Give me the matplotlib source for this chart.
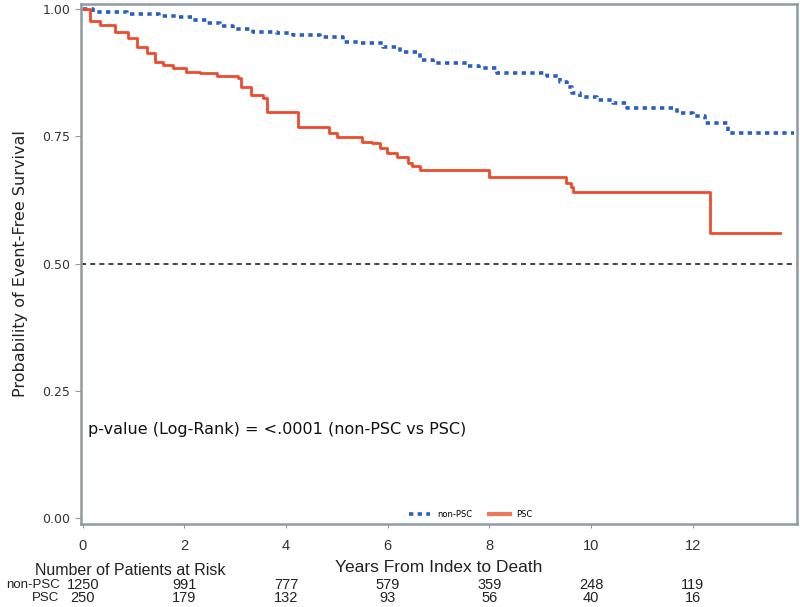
import matplotlib
matplotlib.use("Agg")
import matplotlib.pyplot as plt
from matplotlib.lines import Line2D

# Kaplan-Meier step curves
years_non_psc = [0, 0.2, 0.86, 1.5, 1.84, 2.17, 2.44, 2.7, 2.95, 3.35, 3.82, 4.14, 4.67,
                 5.12, 5.45, 5.9, 6.24, 6.63, 6.9, 7.56, 7.8, 8.15, 9.13, 9.39, 9.52,
                 9.63, 9.78, 10.12, 10.43, 10.71, 11.69, 12.0, 12.24, 12.7, 14.0]
surv_non_psc = [1.0, 0.994, 0.990, 0.986, 0.984, 0.980, 0.974, 0.967, 0.961, 0.955, 0.953,
                0.949, 0.945, 0.935, 0.933, 0.925, 0.916, 0.900, 0.894, 0.888, 0.884,
                0.874, 0.868, 0.857, 0.847, 0.835, 0.827, 0.821, 0.815, 0.805, 0.796,
                0.790, 0.776, 0.756, 0.756]

years_psc = [0, 0.14, 0.33, 0.63, 0.89, 1.06, 1.26, 1.42, 1.57, 1.77, 2.04, 2.3, 2.64,
             3.05, 3.12, 3.3, 3.54, 3.62, 4.23, 4.84, 5.0, 5.49, 5.7, 5.85, 5.98, 6.18,
             6.4, 6.47, 6.63, 8.0, 9.5, 9.6, 9.65, 12.34, 13.72]
surv_psc = [1.0, 0.978, 0.969, 0.955, 0.943, 0.925, 0.914, 0.896, 0.890, 0.884, 0.876,
            0.874, 0.868, 0.864, 0.847, 0.831, 0.825, 0.798, 0.768, 0.756, 0.748, 0.739,
            0.737, 0.727, 0.717, 0.709, 0.697, 0.692, 0.684, 0.670, 0.658, 0.650, 0.641,
            0.560, 0.560]

risk_years = [0, 2, 4, 6, 8, 10, 12]
risk_non_psc = [1250, 991, 777, 579, 359, 248, 119]
risk_psc = [250, 179, 132, 93, 56, 40, 16]

blue = '#2a5fbf'
red = '#ee4a2c'
spine_col = '#8d9ba6'
narrow = ['Liberation Sans Narrow', 'Liberation Sans', 'DejaVu Sans']

fig = plt.figure(figsize=(8, 6.07), dpi=100)
ax = fig.add_axes([0.101, 0.137, 0.895, 0.856])

ax.step(years_non_psc, surv_non_psc, where='post', color=blue, lw=2.6,
        linestyle=(0, (1.2, 1.2)))
ax.step(years_psc, surv_psc, where='post', color=red, lw=2.0)
ax.axhline(0.5, color='#222222', lw=1.2, linestyle=(0, (3, 2.5)))

ax.set_xlim(-0.04, 14.05)
ax.set_ylim(-0.012, 1.01)
ax.set_yticks([0, 0.25, 0.5, 0.75, 1.0])
ax.set_yticklabels(['0.00', '0.25', '0.50', '0.75', '1.00'])
ax.set_xticks(risk_years)
ax.tick_params(axis='y', labelsize=9, colors='#333333', length=4, color=spine_col)
ax.tick_params(axis='x', labelsize=10.5, colors='#333333', length=3, color=spine_col, pad=8)
for lbl in ax.get_xticklabels():
    lbl.set_family(narrow)
for s in ax.spines.values():
    s.set_color(spine_col)
    s.set_linewidth(1.8)

ax.set_ylabel('Probability of Event-Free Survival', fontsize=11.5, color='#222222', labelpad=10)
ax.set_xlabel('Years From Index to Death', fontsize=12.5, family=narrow, color='#222222', labelpad=5)

ax.text(0.1, 0.165, 'p-value (Log-Rank) = <.0001 (non-PSC vs PSC)', fontsize=11.5, color='#111111')

handles = [Line2D([], [], color=blue, lw=2.6, linestyle=(0, (1.2, 1.2))),
           Line2D([], [], color='#f0785a', lw=3)]
ax.legend(handles, ['non-PSC', 'PSC'], loc='lower center', bbox_to_anchor=(0.545, -0.005),
          ncol=2, frameon=False, fontsize=6, handlelength=2.5, columnspacing=2)

# number at risk table
tr = ax.get_xaxis_transform()
ax.text(-0.95, -0.09, 'Number of Patients at Risk', transform=tr, fontsize=11.5,
        family=narrow, ha='left', va='center', color='#222222')
ax.text(-0.46, -0.117, 'non-PSC', transform=tr, fontsize=9.5, family=narrow,
        ha='right', va='center', color='#222222')
ax.text(-0.46, -0.142, 'PSC', transform=tr, fontsize=9.5, family=narrow,
        ha='right', va='center', color='#222222')
for x, a, b in zip(risk_years, risk_non_psc, risk_psc):
    ax.text(x, -0.117, str(a), transform=tr, fontsize=10.5, family=narrow,
            ha='center', va='center', color='#222222')
    ax.text(x, -0.142, str(b), transform=tr, fontsize=10.5, family=narrow,
            ha='center', va='center', color='#222222')

fig.savefig('out.png', dpi=100)
